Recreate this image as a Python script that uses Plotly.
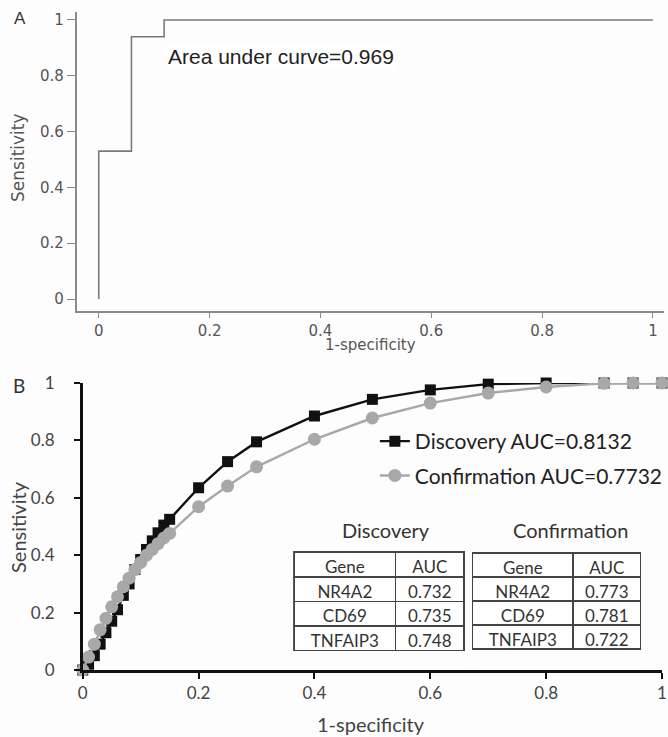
import plotly.graph_objects as go

W, H = 668, 737

# ---------------- Panel A data ----------------
a_fpr = [0, 0, 0.059, 0.118, 1.0]
a_tpr = [0, 0.53, 0.94, 1.0, 1.0]
a_auc_label = "Area under curve=0.969"

# ---------------- Panel B data ----------------
b_fpr = [0, 0.01, 0.02, 0.03, 0.04, 0.05, 0.06, 0.07, 0.08, 0.09, 0.10, 0.11, 0.12,
         0.13, 0.14, 0.15, 0.2, 0.25, 0.3, 0.4, 0.5, 0.6, 0.7, 0.8, 0.9, 0.95, 1.0]
disc_tpr = [0, 0.02, 0.05, 0.09, 0.13, 0.17, 0.21, 0.26, 0.30, 0.35, 0.385, 0.42, 0.45,
            0.478, 0.505, 0.525, 0.635, 0.726, 0.795, 0.885, 0.943, 0.976, 0.996, 1.0, 1.0, 1.0, 1.0]
conf_tpr = [0, 0.045, 0.09, 0.14, 0.18, 0.22, 0.255, 0.29, 0.32, 0.35, 0.375, 0.40, 0.42,
            0.44, 0.46, 0.476, 0.569, 0.641, 0.708, 0.804, 0.878, 0.93, 0.965, 0.986, 0.999, 1.0, 1.0]
disc_name = "Discovery AUC=0.8132"
conf_name = "Confirmation AUC=0.7732"

table_header = ["Gene", "AUC"]
genes = ["NR4A2", "CD69", "TNFAIP3"]
disc_gene_auc = ["0.732", "0.735", "0.748"]
conf_gene_auc = ["0.773", "0.781", "0.722"]
table_titles = ["Discovery", "Confirmation"]

tick_vals = [0, 0.2, 0.4, 0.6, 0.8, 1]
tick_text = ["0", "0.2", "0.4", "0.6", "0.8", "1"]


def fx(p):
    return p / W


def fy(p):
    return 1 - p / H


fig = go.Figure()

# Panel A curve
fig.add_trace(go.Scatter(
    x=a_fpr, y=a_tpr, mode="lines", line=dict(color="#7a7a7a", width=1.6, shape="hv"),
    showlegend=False, xaxis="x", yaxis="y", hoverinfo="skip"))

# Panel B curves
fig.add_trace(go.Scatter(
    x=b_fpr, y=disc_tpr, mode="lines+markers", name=disc_name, legendgroup="d",
    line=dict(color="#111111", width=2.4),
    marker=dict(symbol="square", size=11, color="#111111"),
    cliponaxis=False, xaxis="x2", yaxis="y2"))
fig.add_trace(go.Scatter(
    x=b_fpr, y=conf_tpr, mode="lines+markers", name=conf_name, legendgroup="c",
    line=dict(color="#a8a8a8", width=2.4),
    marker=dict(symbol="circle", size=13, color="#a8a8a8"),
    cliponaxis=False, xaxis="x2", yaxis="y2"))

# Tables
tfont = dict(family="Lato", size=17, color="#333333")
tline = dict(color="#444444", width=1.5)
fig.add_trace(go.Table(
    domain=dict(x=[fx(295), fx(466)], y=[0.0, fy(552)]),
    columnwidth=[102, 69],
    header=dict(values=table_header, height=25, align="center", font=tfont,
                fill=dict(color="white"), line=tline),
    cells=dict(values=[genes, disc_gene_auc], height=24.5, align="center", font=tfont,
               fill=dict(color="white"), line=tline)))
fig.add_trace(go.Table(
    domain=dict(x=[fx(474), fx(643)], y=[0.0, fy(553)]),
    columnwidth=[101, 68],
    header=dict(values=table_header, height=24, align="center", font=tfont,
                fill=dict(color="white"), line=tline),
    cells=dict(values=[genes, conf_gene_auc], height=24, align="center", font=tfont,
               fill=dict(color="white"), line=tline)))

fontA = dict(family="DejaVu Sans", size=15, color="#555555")
fontB = dict(family="Lato", size=17, color="#444444")

fig.update_layout(
    width=W, height=H, margin=dict(l=0, r=0, t=0, b=0),
    paper_bgcolor="#fdfdfd", plot_bgcolor="#fdfdfd",
    showlegend=True,
    legend=dict(x=fx(376), y=fy(421), xanchor="left", yanchor="top",
                font=dict(family="Lato", size=21, color="#222222"),
                bgcolor="rgba(0,0,0,0)", tracegroupgap=4, traceorder="grouped",
                itemwidth=30),
    xaxis=dict(domain=[fx(76.8), fx(666)], range=[-0.04, 1.02], anchor="y", automargin=False,
               tickvals=tick_vals, ticktext=tick_text, showgrid=False, zeroline=False,
               showline=True, linecolor="#8a8a8a", linewidth=1.5,
               ticks="outside", ticklen=5, tickcolor="#8a8a8a", tickfont=fontA,
               ticklabeloverflow="allow"),
    yaxis=dict(domain=[fy(311), fy(11.6)], range=[-0.043, 1.03], anchor="x", automargin=False,
               tickvals=tick_vals, ticktext=tick_text, showgrid=False, zeroline=False,
               showline=True, linecolor="#8a8a8a", linewidth=1.5,
               ticks="outside", ticklen=8, tickcolor="#8a8a8a", tickfont=fontA),
    xaxis2=dict(domain=[fx(83), fx(664)], range=[0, 1], anchor="y2", automargin=False,
                tickvals=tick_vals, ticktext=tick_text, showgrid=False, zeroline=False,
                showline=True, linecolor="#111111", linewidth=2.5,
                ticks="outside", ticklen=6, tickwidth=2, tickcolor="#111111", tickfont=fontB,
                ticklabeloverflow="allow"),
    yaxis2=dict(domain=[fy(670), fy(383)], range=[0, 1], anchor="x2", automargin=False,
                tickvals=tick_vals, ticktext=tick_text, showgrid=False, zeroline=False,
                showline=True, linecolor="#111111", linewidth=2.5,
                ticks="outside", ticklen=6, tickwidth=2, tickcolor="#111111", tickfont=fontB,
                ticklabelstandoff=16),
)


def ann(text, x, y, font, angle=0, bg=None, xanchor="center"):
    fig.add_annotation(text=text, x=fx(x), y=fy(y), xref="paper", yref="paper",
                       xanchor=xanchor, yanchor="middle", showarrow=False,
                       textangle=angle, font=font, bgcolor=bg)


ann("A", 20, 19, dict(family="Liberation Sans", size=17, color="#333333"))
ann(a_auc_label, 282, 57, dict(family="Liberation Sans", size=21, color="#222222"), bg="white")
ann("Sensitivity", 18, 157, dict(family="DejaVu Sans", size=17, color="#555555"), angle=-90)
ann("1-specificity", 372, 345, dict(family="DejaVu Sans", size=15, color="#555555"))

ann("B", 19, 386, dict(family="Lato", size=19, color="#333333"))
ann("Sensitivity", 18, 527, dict(family="Lato", size=20, color="#444444"), angle=-90)
ann("1-specificity", 372, 724, dict(family="Lato", size=20, color="#444444"))
ann(table_titles[0], 387, 530, dict(family="Lato", size=20, color="#333333"))
ann(table_titles[1], 572, 530, dict(family="Lato", size=20, color="#333333"))

fig.write_html("out.html", config={"displayModeBar": False},
               post_script="document.body.style.margin='0';document.body.style.overflow='hidden';")
